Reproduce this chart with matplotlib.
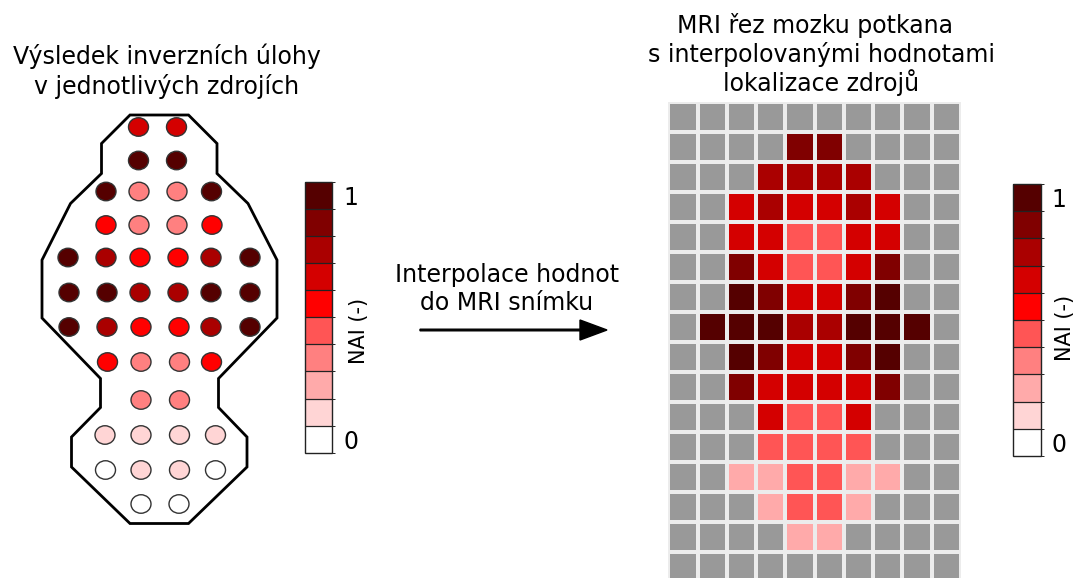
import numpy as np
import matplotlib
matplotlib.use("Agg")
import matplotlib.pyplot as plt
from matplotlib.colors import ListedColormap, BoundaryNorm
from matplotlib.cm import ScalarMappable
from matplotlib.patches import Polygon, Ellipse

plt.rcParams['font.family'] = ['DejaVu Sans']

# ---- data -----------------------------------------------------------------
# NAI levels (0..9 -> NAI = level / 9) for each electrode, row by row
electrode_levels = [
    [6, 6],
    [9, 9],
    [9, 3, 3, 9],
    [5, 3, 3, 5],
    [9, 7, 5, 5, 7, 9],
    [9, 9, 7, 7, 9, 9],
    [9, 7, 5, 5, 7, 9],
    [5, 3, 3, 5],
    [3, 3],
    [1, 1, 1, 1],
    [0, 1, 1, 0],
    [0, 0],
]

# Interpolated NAI levels on the MRI slice grid (-1 = outside the brain)
mri_levels = np.array([
    [-1, -1, -1, -1, -1, -1, -1, -1, -1, -1],
    [-1, -1, -1, -1,  8,  8, -1, -1, -1, -1],
    [-1, -1, -1,  7,  7,  7,  7, -1, -1, -1],
    [-1, -1,  6,  7,  6,  6,  7,  6, -1, -1],
    [-1, -1,  6,  6,  4,  4,  6,  6, -1, -1],
    [-1, -1,  8,  6,  4,  4,  6,  8, -1, -1],
    [-1, -1,  9,  8,  6,  6,  8,  9, -1, -1],
    [-1,  9,  9,  9,  7,  7,  9,  9,  9, -1],
    [-1, -1,  9,  8,  6,  6,  8,  9, -1, -1],
    [-1, -1,  8,  6,  6,  6,  6,  8, -1, -1],
    [-1, -1, -1,  6,  4,  4,  6, -1, -1, -1],
    [-1, -1, -1,  4,  4,  4,  4, -1, -1, -1],
    [-1, -1,  2,  2,  4,  4,  2,  2, -1, -1],
    [-1, -1, -1,  2,  4,  4,  2, -1, -1, -1],
    [-1, -1, -1, -1,  2,  2, -1, -1, -1, -1],
    [-1, -1, -1, -1, -1, -1, -1, -1, -1, -1],
])

cbar_tick_values = [0, 1]
cbar_tick_labels = ['0', '1']

# ---- layout of the electrode array (pixel units of the canvas) ------------
row_y = [127, 160.5, 191.5, 225, 257.5, 292.5, 327, 362, 400, 435, 470, 504]
row_x = [
    [138.5, 176.5],
    [138.5, 176.5],
    [106, 139, 177, 211.5],
    [106, 139, 177, 212],
    [68, 106, 140, 178, 211, 250],
    [69, 107, 140, 178, 211, 250],
    [69, 107, 141, 179, 211, 250],
    [107.5, 141, 179.5, 211.5],
    [141, 179.5],
    [105, 141, 179.5, 215.5],
    [105.5, 141, 179.5, 215.5],
    [141, 179],
]
outline = [
    (130, 115), (188.5, 115), (217, 143.5), (217, 173.5), (248, 203.5),
    (277, 260), (277, 318), (218.5, 378.5), (218.5, 407.5), (247, 437),
    (247, 467), (188.5, 523.5), (130, 523.5), (71.5, 467), (71.5, 437),
    (100.5, 407.5), (100.5, 378.5), (42, 318), (42, 260), (70.5, 203.5),
    (101.5, 173.5), (101.5, 143.5),
]

# ---- colour scale -----------------------------------------------------------
level_colors = ['#ffffff', '#ffd5d5', '#ffaaaa', '#ff8080', '#ff5555',
                '#ff0000', '#d40000', '#aa0000', '#800000', '#550000']
cmap = ListedColormap(level_colors)
cmap.set_bad('#999999')
n_lev = len(level_colors)
step = 1.0 / (n_lev - 1)
bounds = np.linspace(-step / 2, 1 + step / 2, n_lev + 1)
norm = BoundaryNorm(bounds, n_lev)

W, H = 1076, 578
fig = plt.figure(figsize=(W / 100, H / 100), dpi=100)

# canvas axes in pixel units
ax = fig.add_axes([0, 0, 1, 1])
ax.set_xlim(0, W)
ax.set_ylim(H, 0)
ax.axis('off')

ax.add_patch(Polygon(outline, closed=True, fill=False, edgecolor='black',
                     lw=2.0, joinstyle='miter'))
for y, xs, levs in zip(row_y, row_x, electrode_levels):
    for x, lv in zip(xs, levs):
        ax.add_patch(Ellipse((x, y), 20, 18.5, facecolor=cmap(norm(lv * step)),
                             edgecolor='#333333', lw=1.0))

title_kw = dict(ha='center', va='baseline', fontsize=17, color='black')
ax.text(167, 64, 'Výsledek inverzních úlohy', **title_kw)
ax.text(167, 94, 'v jednotlivých zdrojích', **title_kw)
ax.text(815, 33, 'MRI řez mozku potkana', **title_kw)
ax.text(822, 62, 's interpolovanými hodnotami', **title_kw)
ax.text(821, 91, 'lokalizace zdrojů', **title_kw)
ax.text(507, 282, 'Interpolace hodnot', **title_kw)
ax.text(507, 310, 'do MRI snímku', **title_kw)

ax.arrow(420, 330, 187, 0, width=1.6, head_width=20, head_length=27,
         length_includes_head=True, color='black')

# MRI grid
nrows, ncols = mri_levels.shape
gx0, gx1 = 668.3, 961.0
gy0, cell_h = 101.7, 30.0
gy1 = gy0 + nrows * cell_h
gax = fig.add_axes([gx0 / W, (H - gy1) / H, (gx1 - gx0) / W, (gy1 - gy0) / H])
nai = np.ma.masked_less(mri_levels, 0) * step
gax.pcolormesh(np.arange(ncols + 1), np.arange(nrows + 1), nai, cmap=cmap,
               norm=norm, edgecolors='#ececec', linewidth=1.6)
gax.set_xlim(0, ncols)
gax.set_ylim(nrows, 0)
gax.axis('off')


def add_cbar(x0, x1, y0, y1, label_x, label_y):
    cax = fig.add_axes([x0 / W, (H - y1) / H, (x1 - x0) / W, (y1 - y0) / H])
    sm = ScalarMappable(norm=norm, cmap=cmap)
    cb = fig.colorbar(sm, cax=cax, ticks=cbar_tick_values, drawedges=True)
    cb.ax.set_yticklabels(cbar_tick_labels)
    cb.ax.tick_params(length=0, pad=8, labelsize=17)
    cb.outline.set_linewidth(1.0)
    cb.outline.set_edgecolor('#222222')
    cb.dividers.set_color('#222222')
    cb.dividers.set_linewidth(0.9)
    cb.set_label('NAI (-)', fontsize=15)
    cb.ax.yaxis.set_label_coords(label_x, label_y)
    return cb


add_cbar(305, 332, 181.7, 452.7, 1.62, 0.45)
add_cbar(1012.7, 1040.7, 184, 456, 1.5, 0.47)

fig.savefig('out.png', dpi=100)
